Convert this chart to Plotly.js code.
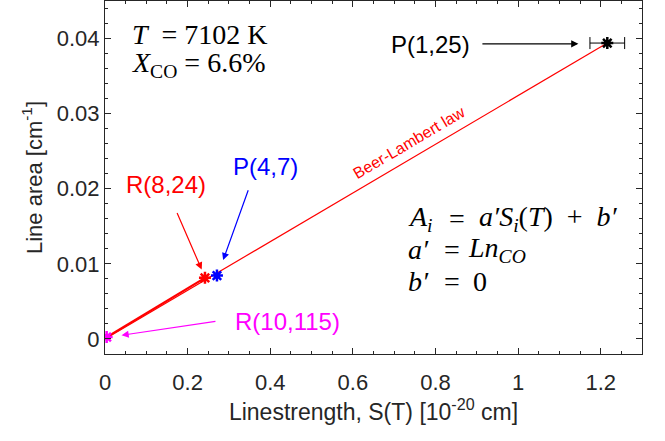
<!DOCTYPE html>
<html><head><meta charset="utf-8">
<script src="https://cdn.plot.ly/plotly-3.0.1.min.js"></script>
<style>html,body{margin:0;padding:0;background:#fff}#c{width:665px;height:441px}</style>
</head><body><div id="c"></div>
<script>
// Data
const fitX = [0, 1.216];
const fitY = [0, 0.0394];
const lowX = [0.004, 0.242];
const lowY = [0.00025, 0.00814];
const ptNames = ["R(10,115)", "R(8,24)", "P(4,7)", "P(1,25)"];
const ptX = [0.004, 0.242, 0.271, 1.216];
const ptY = [0.00025, 0.00814, 0.00845, 0.0394];
const ptXerr = [0, 0, 0, 0.042];
const ptYerr = [0, 0, 0, 0.0003];
const ptColors = ["#ff00ff", "#ff0000", "#0000ff", "#000000"];
const xTicks = [0, 0.2, 0.4, 0.6, 0.8, 1, 1.2];
const xTickText = ["0", "0.2", "0.4", "0.6", "0.8", "1", "1.2"];
const yTicks = [0, 0.01, 0.02, 0.03, 0.04];
const yTickText = ["0", "0.01", "0.02", "0.03", "0.04"];

const traces = [
  {x: fitX, y: fitY, mode: 'lines', line: {color: '#ff0000', width: 1.2}, showlegend: false, hoverinfo: 'skip'},
  {x: lowX, y: lowY, mode: 'lines', line: {color: '#ff0000', width: 2.2}, showlegend: false, hoverinfo: 'skip'}
];
for (let i = 0; i < ptX.length; i++) {
  traces.push({
    x: [ptX[i]], y: [ptY[i]], mode: 'markers', name: ptNames[i], showlegend: false,
    marker: {symbol: 'asterisk-open', size: 10, color: ptColors[i], line: {color: ptColors[i], width: 2.5}},
    error_x: ptXerr[i] ? {type: 'data', array: [ptXerr[i]], visible: true, color: '#000', thickness: 1, width: 6} : {visible: false},
    error_y: ptYerr[i] ? {type: 'data', array: [ptYerr[i]], visible: true, color: '#000', thickness: 1, width: 3} : {visible: false}
  });
  if (i === 3) {
    traces.push({x: [ptX[i]], y: [ptY[i]], mode: 'markers', showlegend: false, hoverinfo: 'skip',
      marker: {symbol: 'circle', size: 6, color: '#000'}});
  }
}

const serifFam = 'Liberation Serif, DejaVu Serif, serif';
const serif = {family: serifFam, size: 28, color: '#000'};
const sans = 'Liberation Sans, Arial, sans-serif';
function arrow(x, y, ax, ay, color) {
  return {x: x, y: y, ax: ax, ay: ay, xref: 'x', yref: 'y', axref: 'x', ayref: 'y', text: '',
    showarrow: true, arrowhead: 2, arrowsize: 1.2, arrowwidth: 1.2, arrowcolor: color};
}
function label(x, y, text, color, size, opts) {
  return Object.assign({x: x, y: y, xref: 'x', yref: 'y', text: text, showarrow: false,
    font: {family: sans, size: size, color: color}}, opts || {});
}
function eq(x, y, text, anchor) {
  return {x: x, y: y, xref: 'x', yref: 'y', xanchor: anchor || 'left', showarrow: false, font: serif, text: text};
}

const annotations = [
  arrow(1.146, 0.0393, 0.910, 0.0393, '#000'),
  arrow(0.234, 0.00924, 0.173, 0.01698, '#ff0000'),
  arrow(0.286, 0.0105, 0.348, 0.0200, '#0000ff'),
  arrow(0.040, 0.00049, 0.271, 0.00238, '#ff00ff'),
  label(0.787, 0.03926, 'P(1,25)', '#000', 24),
  label(0.147, 0.02051, 'R(8,24)', '#ff0000', 24),
  label(0.389, 0.0229, 'P(4,7)', '#0000ff', 24),
  label(0.442, 0.00234, 'R(10,115)', '#ff00ff', 24),
  label(0.737, 0.0261, 'Beer-Lambert law', '#ff0000', 16, {textangle: -30.5}),
  eq(0.060, 0.0406, '<i>T</i>  = 7102 K'),
  eq(0.060, 0.0366, '<i>X</i><sub>CO</sub> = 6.6%'),
  eq(0.729, 0.01602, '<i>A<sub>i</sub></i>'),
  eq(0.851, 0.01602, '=', 'center'),
  eq(0.901, 0.01602, '<i>a′S<sub>i</sub></i>(<i>T</i>)  +  <i>b′</i>'),
  eq(0.729, 0.0119, '<i>a′</i>'),
  eq(0.840, 0.0119, '=', 'center'),
  eq(0.874, 0.0119, '<i>Ln<sub>CO</sub></i>'),
  eq(0.729, 0.00765, '<i>b′</i>'),
  eq(0.840, 0.00765, '=', 'center'),
  eq(0.886, 0.00765, '0')
];

const axisCommon = {
  showgrid: false, zeroline: false, showline: true, linecolor: '#262626', linewidth: 1,
  mirror: 'ticks', ticks: 'inside', ticklen: 6, tickcolor: '#262626', tickwidth: 1,
  tickfont: {family: sans, size: 22, color: '#262626'}
};

const layout = {
  width: 665, height: 441,
  margin: {l: 105, r: 23, t: 1, b: 87},
  paper_bgcolor: '#fff', plot_bgcolor: '#fff',
  showlegend: false,
  xaxis: Object.assign({}, axisCommon, {
    range: [0, 1.3], tickvals: xTicks, ticktext: xTickText, ticklabelstandoff: 9,
    minor: {ticks: 'inside', ticklen: 3, tickcolor: '#262626', dtick: 0.05, tick0: 0},
    title: {text: 'Linestrength, S(T) [10<sup>-20</sup> cm]', font: {family: sans, size: 23, color: '#262626'}, standoff: 4}
  }),
  yaxis: Object.assign({}, axisCommon, {
    range: [-0.002, 0.045], tickvals: yTicks, ticktext: yTickText,
    minor: {ticks: 'inside', ticklen: 3, tickcolor: '#262626', dtick: 0.002, tick0: 0},
    title: {text: 'Line area [cm<sup>-1</sup>]', font: {family: sans, size: 22, color: '#262626'}, standoff: 8}
  }),
  annotations: annotations
};

Plotly.newPlot('c', traces, layout, {displayModeBar: false, staticPlot: true});
</script></body></html>
